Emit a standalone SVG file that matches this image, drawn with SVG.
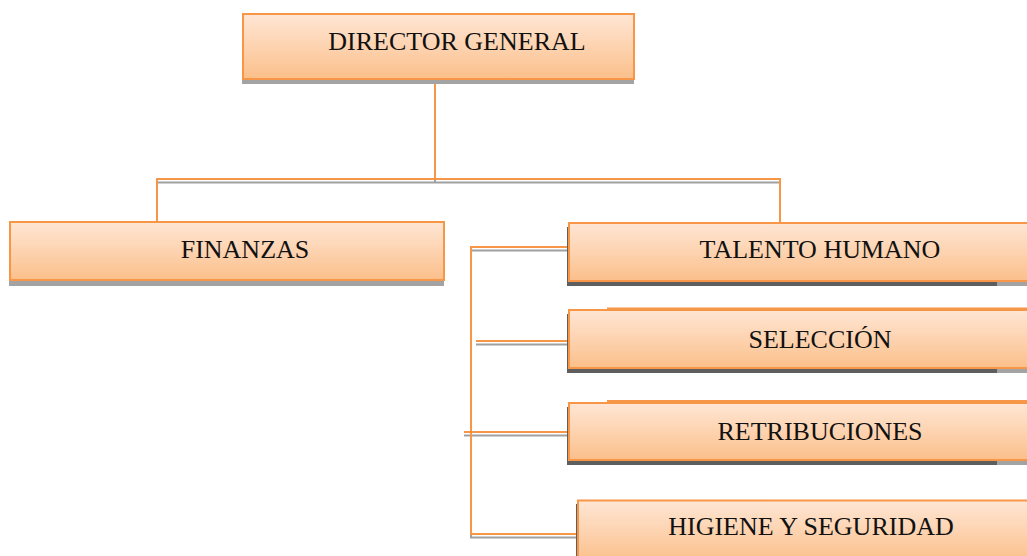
<svg xmlns="http://www.w3.org/2000/svg" width="1027" height="556" viewBox="0 0 1027 556">
<defs>
<linearGradient id="g" x1="0" y1="0" x2="0" y2="1">
<stop offset="0" stop-color="#fee6d4"/>
<stop offset="0.5" stop-color="#fdd3b0"/>
<stop offset="1" stop-color="#fbbf8a"/>
</linearGradient>
</defs>
<style>
.box{fill:url(#g);stroke:#f79646;stroke-width:2}
.sh{fill:#a3a3a3}
.shd{fill:#5e5e5e}
.lbl{font-family:"Liberation Serif","Times New Roman",serif;font-size:26px;fill:#111;text-anchor:middle}
.ln{fill:none;stroke:#f79646;stroke-width:2}
.lns{fill:none;stroke:#a0a0a0;stroke-width:2}
.step{stroke:#f79646;stroke-width:2}
</style>
<g id="connectors">
<g transform="translate(0,3.5)">
<path class="lns" d="M435 80V179M157 222V179H780V222"/>
<path class="lns" d="M569 247H471V534H589M476 341H569M464 432H569"/>
</g>
<path class="ln" d="M435 80V179M157 222V179H780V222"/>
<path class="ln" d="M569 247H471V534H589M476 341H569M464 432H569"/>
</g>
<g id="director">
<rect class="sh" x="242" y="18" width="392" height="66"/>
<rect class="box" x="243" y="14" width="391" height="65"/>
<text class="lbl" x="457" y="50">DIRECTOR GENERAL</text>
</g>
<g id="finanzas">
<rect class="sh" x="9" y="226" width="435" height="60"/>
<rect class="box" x="10" y="222" width="434" height="58"/>
<text class="lbl" x="245" y="258">FINANZAS</text>
</g>
<g id="talento">
<rect class="shd" x="567" y="227" width="430" height="59"/>
<rect class="sh" x="997" y="227" width="40" height="59"/>
<rect class="box" x="569" y="223" width="470" height="58"/>
<text class="lbl" x="820" y="258">TALENTO HUMANO</text>
</g>
<g id="seleccion">
<rect class="shd" x="567" y="314" width="430" height="59"/>
<rect class="sh" x="997" y="314" width="40" height="59"/>
<rect class="box" x="569" y="310" width="470" height="58"/>
<line class="step" x1="607" y1="308.5" x2="1030" y2="308.5"/>
<text class="lbl" x="820" y="348">SELECCIÓN</text>
</g>
<g id="retribuciones">
<rect class="shd" x="567" y="407" width="430" height="58"/>
<rect class="sh" x="997" y="407" width="40" height="58"/>
<rect class="box" x="569" y="403" width="470" height="57"/>
<line class="step" x1="607" y1="401" x2="1030" y2="401"/>
<text class="lbl" x="820" y="440">RETRIBUCIONES</text>
</g>
<g id="higiene">
<rect class="shd" x="576" y="504" width="460" height="60"/>
<rect class="box" x="578" y="500.5" width="460" height="62"/>
<text class="lbl" x="811" y="535">HIGIENE Y SEGURIDAD</text>
</g>
</svg>
